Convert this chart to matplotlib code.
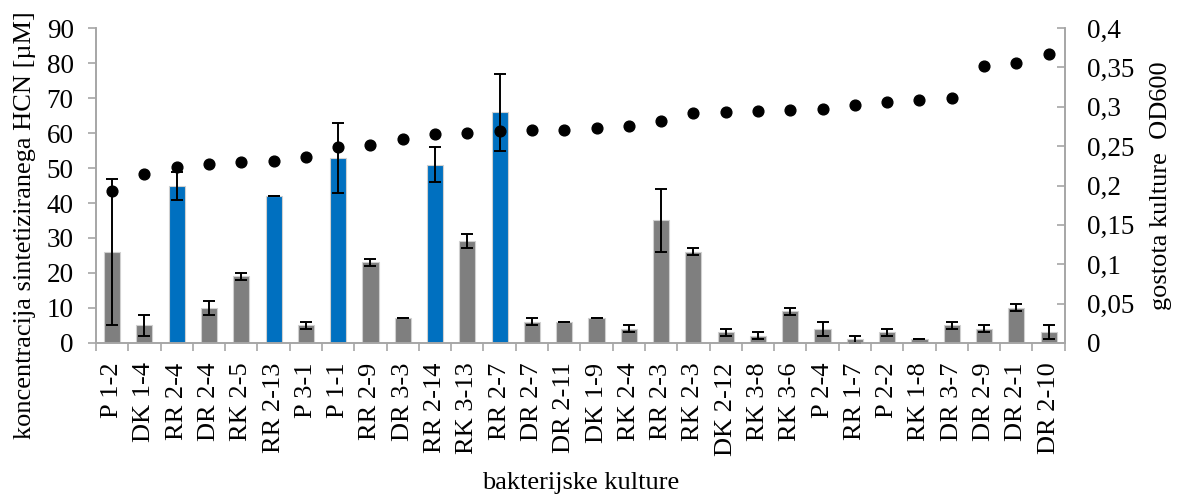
import matplotlib
matplotlib.use("Agg")
import matplotlib.pyplot as plt
import numpy as np
from matplotlib.ticker import FuncFormatter, MultipleLocator

plt.rcParams["font.family"] = ["Liberation Serif", "DejaVu Serif"]

cultures = ["P 1-2", "DK 1-4", "RR 2-4", "DR 2-4", "RK 2-5", "RR 2-13", "P 3-1",
            "P 1-1", "RR 2-9", "DR 3-3", "RR 2-14", "RK 3-13", "RR 2-7", "DR 2-7",
            "DR 2-11", "DK 1-9", "RK 2-4", "RR 2-3", "RK 2-3", "DK 2-12", "RK 3-8",
            "RK 3-6", "P 2-4", "RR 1-7", "P 2-2", "RK 1-8", "DR 3-7", "DR 2-9",
            "DR 2-1", "DR 2-10"]
hcn = [26, 5, 45, 10, 19, 42, 5, 53, 23, 7, 51, 29, 66, 6, 6, 7, 4, 35, 26, 3,
       2, 9, 4, 1, 3, 1, 5, 4, 10, 3]
hcn_err = [21, 3, 4, 2, 1, 0, 1, 10, 1, 0, 5, 2, 11, 1, 0, 0, 1, 9, 1, 1,
           1, 1, 2, 1, 1, 0, 1, 1, 1, 2]
od600 = [0.193, 0.215, 0.223, 0.227, 0.230, 0.231, 0.236, 0.249, 0.251, 0.259,
         0.265, 0.267, 0.269, 0.271, 0.271, 0.273, 0.276, 0.282, 0.292, 0.293,
         0.294, 0.296, 0.297, 0.302, 0.306, 0.309, 0.311, 0.352, 0.356, 0.367]
highlighted = ["RR 2-4", "RR 2-13", "P 1-1", "RR 2-14", "RR 2-7"]

GRAY = "#7f7f7f"
BLUE = "#0070c0"
SPINE = "#a6a6a6"

x = np.arange(len(cultures))
colors = [BLUE if c in highlighted else GRAY for c in cultures]

fig = plt.figure(figsize=(11.79, 4.96), dpi=100)
ax = fig.add_axes([0.0814, 0.3085, 0.8217, 0.635])

ax.bar(x, hcn, width=0.5, color=colors, edgecolor="#d0d0d0", linewidth=0.8, zorder=2)
ax.errorbar(x, hcn, yerr=hcn_err, fmt="none", ecolor="black", elinewidth=1.4,
            capsize=4.5, capthick=1.4, zorder=3)

ax.set_xlim(-0.5, len(cultures) - 0.5)
ax.set_ylim(0, 90)
ax.yaxis.set_major_locator(MultipleLocator(10))
ax.set_xticks(x)
ax.set_xticklabels(cultures, rotation=90, fontsize=19)
ax.tick_params(axis="x", which="major", length=0, pad=14)
ax.set_xticks(np.arange(-0.5, len(cultures), 1), minor=True)
ax.tick_params(axis="x", which="minor", length=6, color=SPINE, width=1.2)
ax.tick_params(axis="y", labelsize=19.5, length=6, color=SPINE, width=1.2, pad=10)
ax.set_ylabel("koncentracija sintetiziranega HCN [µM]", fontsize=19, va="center")
ax.yaxis.set_label_coords(-0.0733, 0.3746)
ax.set_xlabel("bakterijske kulture", fontsize=19, labelpad=12)
ax.spines["top"].set_visible(False)
for s in ("left", "bottom", "right"):
    ax.spines[s].set_color(SPINE)
    ax.spines[s].set_linewidth(1.2)

ax2 = ax.twinx()
ax2.scatter(x, od600, s=60, color="black", zorder=4)
ax2.set_ylim(0, 0.4)
ax2.yaxis.set_major_locator(MultipleLocator(0.05))
ax2.yaxis.set_major_formatter(FuncFormatter(lambda v, p: f"{v:g}".replace(".", ",")))
ax2.tick_params(axis="y", labelsize=19.5, length=6, direction="in", color=SPINE,
                width=1.2, pad=16)
ax2.set_ylabel("gostota kulture  OD600", fontsize=19, va="center")
ax2.yaxis.set_label_coords(1.099, 0.5)
ax2.spines["top"].set_visible(False)
for s in ("left", "bottom", "right"):
    ax2.spines[s].set_color(SPINE)
    ax2.spines[s].set_linewidth(1.2)

fig.savefig("out.png", dpi=100)
